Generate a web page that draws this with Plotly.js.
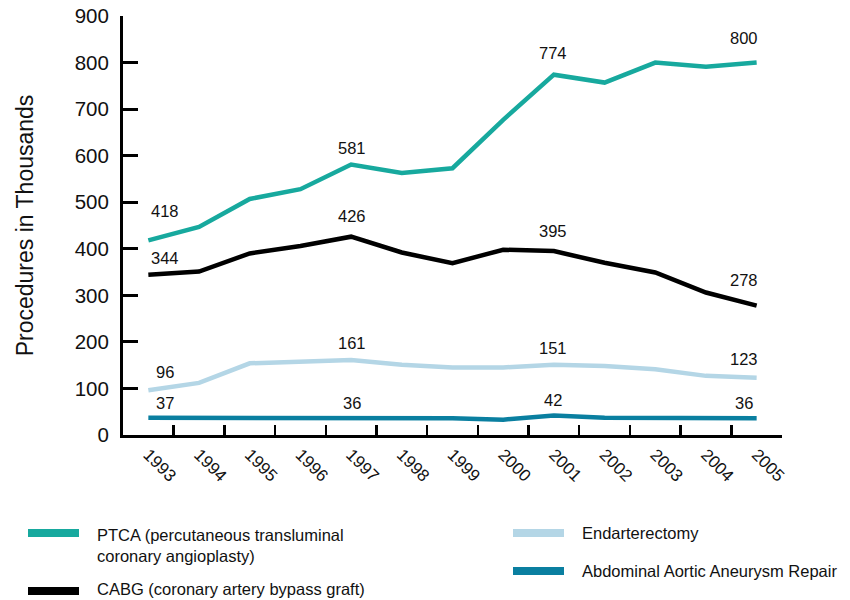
<!DOCTYPE html>
<html>
<head>
<meta charset="utf-8">
<script src="https://cdn.plot.ly/plotly-3.0.1.min.js"></script>
<style>
html,body{margin:0;padding:0;background:#fff;}
#chart{width:850px;height:600px;}
</style>
</head>
<body>
<div id="chart"></div>
<script>
// ---- data ----
const years = ["1993","1994","1995","1996","1997","1998","1999","2000","2001","2002","2003","2004","2005"];
const ptca   = [418, 447, 507, 528, 581, 563, 573, 677, 774, 757, 800, 791, 800];
const cabg   = [344, 351, 390, 406, 426, 392, 369, 398, 395, 370, 349, 306, 278];
const endart = [96, 112, 154, 158, 161, 151, 145, 145, 151, 148, 141, 127, 123];
const aaa    = [37, 37, 36, 36, 36, 36, 36, 33, 42, 37, 37, 37, 36];
const seriesNames = [
  "PTCA (percutaneous transluminal<br>coronary angioplasty)",
  "CABG (coronary artery bypass graft)",
  "Endarterectomy",
  "Abdominal Aortic Aneurysm Repair"
];
const yTicks = [0,100,200,300,400,500,600,700,800,900];
const labelIdx = [0, 4, 8, 12];   // years that carry value labels

// ---- styles ----
const colors = ["#17a99e", "#000000", "#b4d6e6", "#0a7fa0"];
const allData = [ptca, cabg, endart, aaa];
const labelYShift = [[29,17,22,25],[17,21,20,26],[18,17,17,19],[15,15,15,15]];
const labelXShift = [17, 1, -1, -13];
const FONT = "Liberation Sans, Arial, Helvetica, sans-serif";

const W = 850, H = 600;
const M = {l:123, r:68, t:16, b:165};
const pw = W - M.l - M.r, ph = H - M.t - M.b;
const px2x = p => (p - M.l) / pw;
const py2y = p => (H - M.b - p) / ph;

const traces = allData.map((d, i) => ({
  x: years, y: d, type: "scatter", mode: "lines",
  name: seriesNames[i],
  line: {color: colors[i], width: 4.5},
  hoverinfo: "x+y+name"
}));
const order = [2, 3, 1, 0];
const data = order.map(i => traces[i]);

const annotations = [];
allData.forEach((d, s) => {
  labelIdx.forEach((k, j) => {
    annotations.push({
      x: k, y: d[k], xref: "x", yref: "y",   // category serial number of years[k]
      text: String(d[k]), showarrow: false,
      xanchor: "center", yanchor: "middle",
      xshift: labelXShift[j], yshift: labelYShift[s][j],
      font: {family: FONT, size: 16.5, color: "#111"}
    });
  });
});

// legend (manual, in paper coordinates)
const legendPos = [
  {sx: 28, sy: 533, tx: 95, ty: 524, anchor: "top"},
  {sx: 28, sy: 591, tx: 95, ty: 589, anchor: "middle"},
  {sx: 513, sy: 533, tx: 580, ty: 533, anchor: "middle"},
  {sx: 513, sy: 571, tx: 580, ty: 571, anchor: "middle"}
];
const shapes = [];
legendPos.forEach((p, i) => {
  shapes.push({
    type: "line", xref: "paper", yref: "paper",
    x0: px2x(p.sx), x1: px2x(p.sx + 51), y0: py2y(p.sy), y1: py2y(p.sy),
    line: {color: colors[i], width: 8}
  });
  annotations.push({
    xref: "paper", yref: "paper", x: px2x(p.tx), y: py2y(p.ty),
    xanchor: "left", yanchor: p.anchor, align: "left",
    text: seriesNames[i], showarrow: false,
    font: {family: FONT, size: 16.5, color: "#111"}
  });
});

const layout = {
  width: W, height: H,
  margin: M,
  paper_bgcolor: "#fff", plot_bgcolor: "#fff",
  showlegend: false,
  font: {family: FONT, color: "#111"},
  xaxis: {
    type: "category",
    range: [-0.5, 12.5],
    tickson: "boundaries",
    ticks: "inside", ticklen: 10, tickwidth: 2.5, tickcolor: "#000",
    showline: true, linecolor: "#000", linewidth: 3,
    showgrid: false, zeroline: false,
    tickangle: 45,
    tickfont: {family: FONT, size: 17, color: "#111"},
    fixedrange: true
  },
  yaxis: {
    range: [0, 900],
    tickvals: yTicks,
    ticks: "inside", ticklen: 15, tickwidth: 3, tickcolor: "#000",
    showline: true, linecolor: "#000", linewidth: 3,
    showgrid: false, zeroline: false,
    ticklabelstandoff: 7,
    tickfont: {family: FONT, size: 20.5, color: "#111"},
    title: {text: "Procedures in Thousands", font: {family: FONT, size: 23, color: "#111"}, standoff: 35},
    fixedrange: true
  },
  shapes: shapes,
  annotations: annotations
};

Plotly.newPlot("chart", data, layout, {displayModeBar: false, staticPlot: true});
</script>
</body>
</html>
